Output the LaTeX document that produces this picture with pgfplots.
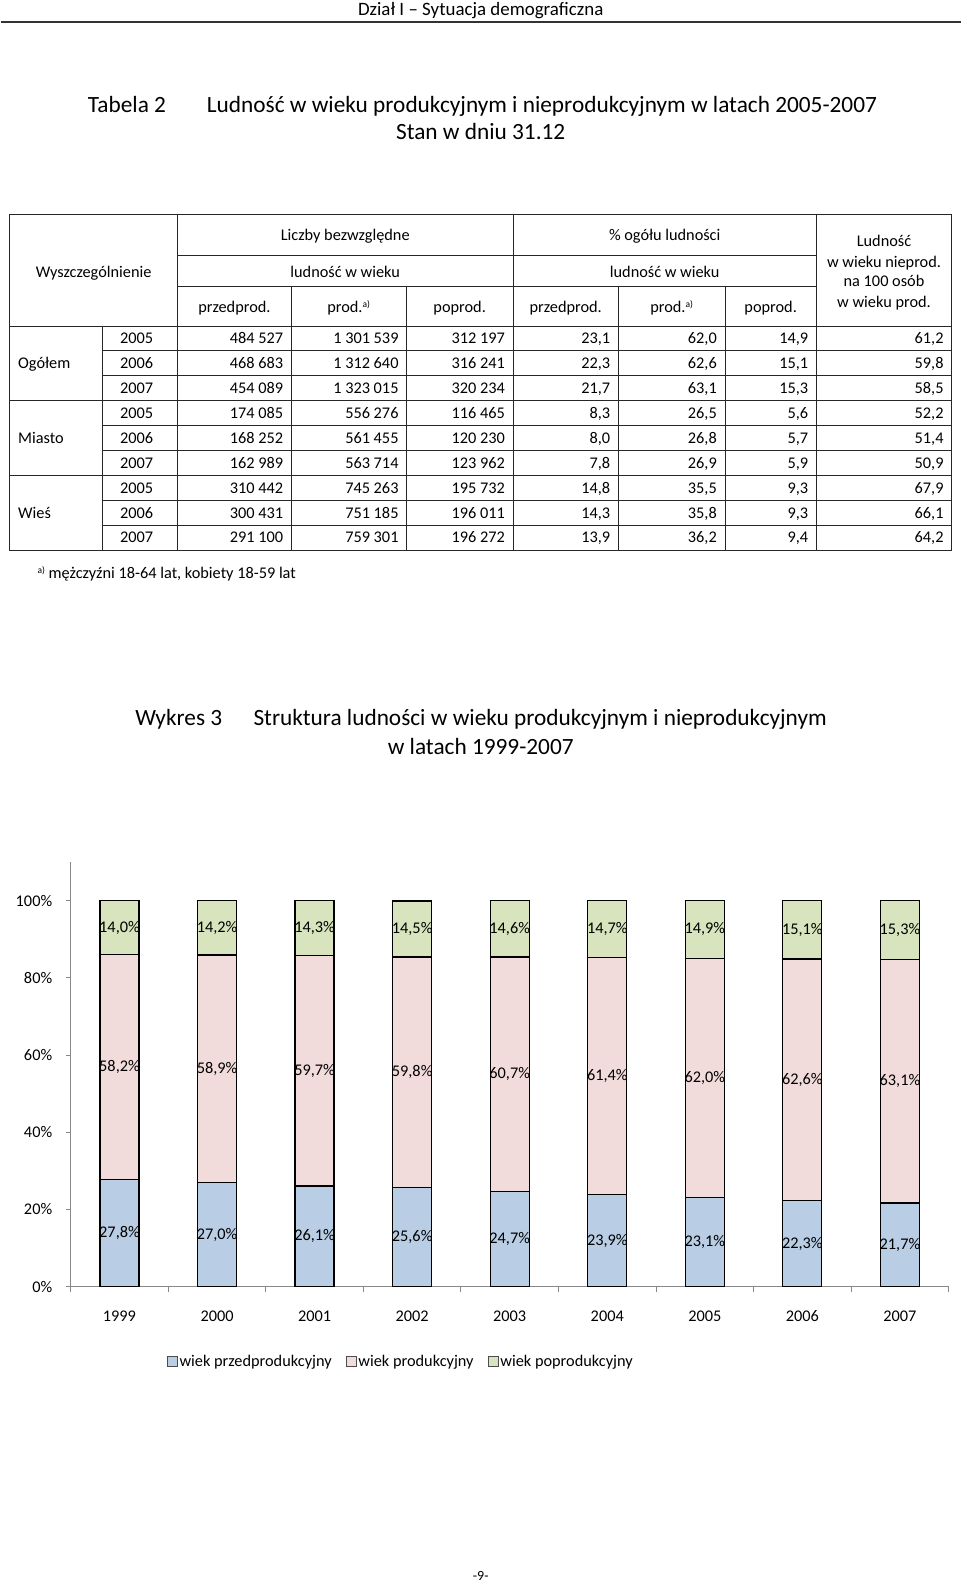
\documentclass[border=0pt]{standalone}
\usepackage{fontspec}
\setmainfont{Carlito}
\usepackage{pgfplots}
\pgfplotsset{compat=1.18}
\definecolor{cblue}{HTML}{B9CDE5}
\definecolor{cpink}{HTML}{F2DCDB}
\definecolor{cgreen}{HTML}{D7E4BD}
\definecolor{axgray}{HTML}{888888}
\pgfplotsset{sqleg/.style={legend image code/.code={\draw[##1,draw=black!70,line width=0.8pt] (0pt,-5pt) rectangle (10pt,5pt);}}}
\newcommand\fs[1]{\fontsize{#1}{#1}\selectfont}
\newcommand\supa{\raisebox{5pt}{\fs{9.5}a)}}
\newcommand\trow[9]{%
  \pgfmathsetmacro\bl{326+24.9*#1+17.75}%
  \node[t,anchor=base] at (136,\bl) {#2};%
  \node[t,anchor=base east] at (282.7,\bl) {#3};%
  \node[t,anchor=base east] at (398,\bl) {#4};%
  \node[t,anchor=base east] at (504.3,\bl) {#5};%
  \node[t,anchor=base east] at (609.7,\bl) {#6};%
  \node[t,anchor=base east] at (716.3,\bl) {#7};%
  \node[t,anchor=base east] at (807.7,\bl) {#8};%
  \node[t,anchor=base east] at (943,\bl) {#9};%
}
\begin{document}
\begin{tikzpicture}[x=1pt,y=-1pt,t/.style={inner sep=0pt,font=\fs{16.3}}]
\fill[white] (0,0) rectangle (960,1585);
% page header
\node[t,anchor=base] at (480,15.2) {\fs{18.9}Dział I – Sytuacja demograficzna};
\draw[line width=1.4pt,black!80] (0,22) -- (960,22);
% table title
\node[t,anchor=base west] at (87,112.3) {\fs{23.3}Tabela 2};
\node[t,anchor=base west] at (206,112.3) {\fs{23.3}Ludność w wieku produkcyjnym i nieprodukcyjnym w latach 2005-2007};
\node[t,anchor=base] at (480,139.7) {\fs{23.3}Stan w dniu 31.12};
% table grid
\begin{scope}[line width=1pt,color=black!85]
\draw (9.3,214) rectangle (951,550.1);
\foreach \xx in {176.7,512.3,815.7} \draw (\xx,214) -- (\xx,550.1);
\foreach \xx in {290.7,406,617.7,724.3} \draw (\xx,286) -- (\xx,550.1);
\draw (101.7,326) -- (101.7,550.1);
\draw (176.7,255.7) -- (815.7,255.7);
\draw (176.7,286) -- (815.7,286);
\draw (9.3,326) -- (951,326);
\foreach \i in {1,2,4,5,7,8} \draw (101.7,326+24.9*\i) -- (951,326+24.9*\i);
\foreach \i in {3,6} \draw (9.3,326+24.9*\i) -- (951,326+24.9*\i);
\end{scope}
% header texts
\node[t,anchor=base] at (93,277) {Wyszczególnienie};
\node[t,anchor=base] at (344.5,240.3) {Liczby bezwzględne};
\node[t,anchor=base] at (664,240.3) {\% ogółu ludności};
\node[t,anchor=base] at (344.5,277) {ludność w wieku};
\node[t,anchor=base] at (664,277) {ludność w wieku};
\node[t,anchor=base] at (233.7,312.6) {przedprod.};
\node[t,anchor=base] at (348,312.6) {prod.\supa};
\node[t,anchor=base] at (459,312.6) {poprod.};
\node[t,anchor=base] at (565,312.6) {przedprod.};
\node[t,anchor=base] at (671,312.6) {prod.\supa};
\node[t,anchor=base] at (770,312.6) {poprod.};
\node[t,anchor=base] at (883.3,246.3) {Ludność};
\node[t,anchor=base] at (883.3,267.6) {w wieku nieprod.};
\node[t,anchor=base] at (883.3,286.9) {na 100 osób};
\node[t,anchor=base] at (883.3,307.2) {w wieku prod.};
% group labels
\node[t,anchor=base west] at (17.3,368.9) {Ogółem};
\node[t,anchor=base west] at (17.3,443.6) {Miasto};
\node[t,anchor=base west] at (17.3,518.3) {Wieś};
% data rows
\trow{0}{2005}{484~527}{1~301~539}{312~197}{23,1}{62,0}{14,9}{61,2}
\trow{1}{2006}{468~683}{1~312~640}{316~241}{22,3}{62,6}{15,1}{59,8}
\trow{2}{2007}{454~089}{1~323~015}{320~234}{21,7}{63,1}{15,3}{58,5}
\trow{3}{2005}{174~085}{556~276}{116~465}{8,3}{26,5}{5,6}{52,2}
\trow{4}{2006}{168~252}{561~455}{120~230}{8,0}{26,8}{5,7}{51,4}
\trow{5}{2007}{162~989}{563~714}{123~962}{7,8}{26,9}{5,9}{50,9}
\trow{6}{2005}{310~442}{745~263}{195~732}{14,8}{35,5}{9,3}{67,9}
\trow{7}{2006}{300~431}{751~185}{196~011}{14,3}{35,8}{9,3}{66,1}
\trow{8}{2007}{291~100}{759~301}{196~272}{13,9}{36,2}{9,4}{64,2}
% footnote
\node[t,anchor=base west] at (36.7,578.6) {\supa\ mężczyźni 18-64 lat, kobiety 18-59 lat};
% chart title
\node[t,anchor=base west] at (134.4,725.8) {\fs{23.3}Wykres 3};
\node[t,anchor=base west] at (252.6,725.8) {\fs{23.3}Struktura ludności w wieku produkcyjnym i nieprodukcyjnym};
\node[t,anchor=base] at (480,754) {\fs{23.3}w latach 1999-2007};
% page number
\node[t,anchor=base] at (480,1580.5) {\fs{14}-9-};
% chart
\begin{axis}[
  at={(70pt,-1286.7pt)}, anchor=south west,
  scale only axis, width=878pt, height=424.7pt,
  ybar stacked, bar width=39pt,
  xmin=-0.5, xmax=8.5, ymin=0, ymax=110,
  enlarge x limits=false, enlarge y limits=false,
  xtick={-0.5,0.5,1.5,2.5,3.5,4.5,5.5,6.5,7.5,8.5},
  xticklabels={},
  extra x ticks={0,1,2,3,4,5,6,7,8},
  extra x tick labels={1999,2000,2001,2002,2003,2004,2005,2006,2007},
  extra x tick style={major tick length=0pt, xticklabel style={anchor=base, yshift=-35pt}},
  ytick={0,20,40,60,80,100},
  yticklabels={0\%,20\%,40\%,60\%,80\%,100\%},
  yticklabel style={xshift=-10pt},
  axis x line*=bottom, axis y line*=left,
  axis line style={draw=axgray, line width=1pt, -},
  tick align=outside, major tick length=5pt,
  every tick/.style={draw=axgray, line width=1pt},
  tick label style={font=\fs{16.3}},
  /pgf/number format/assume math mode=true,
  point meta=rawy,
  nodes near coords={\pgfmathprintnumber[fixed,fixed zerofill,precision=1,use comma]{\pgfplotspointmeta}\%},
  every node near coord/.append style={anchor=center, font=\fs{16.3}, black},
  legend columns=3,
  legend style={draw=none, fill=none, at={(0.3759,-0.1766)}, anchor=center, font=\fs{16.3},
    /tikz/every even column/.append style={column sep=12pt}},
  clip=false,
]
\addplot[fill=cblue, draw=black, line width=1.2pt, sqleg]
  coordinates {(0,27.8) (1,27.0) (2,26.1) (3,25.6) (4,24.7) (5,23.9) (6,23.1) (7,22.3) (8,21.7)};
\addplot[fill=cpink, draw=black, line width=1.2pt, sqleg]
  coordinates {(0,58.2) (1,58.9) (2,59.7) (3,59.8) (4,60.7) (5,61.4) (6,62.0) (7,62.6) (8,63.1)};
\addplot[fill=cgreen, draw=black, line width=1.2pt, sqleg]
  coordinates {(0,14.0) (1,14.2) (2,14.3) (3,14.5) (4,14.6) (5,14.7) (6,14.9) (7,15.1) (8,15.3)};
\legend{wiek przedprodukcyjny, wiek produkcyjny, wiek poprodukcyjny}
\end{axis}
\end{tikzpicture}
\end{document}
